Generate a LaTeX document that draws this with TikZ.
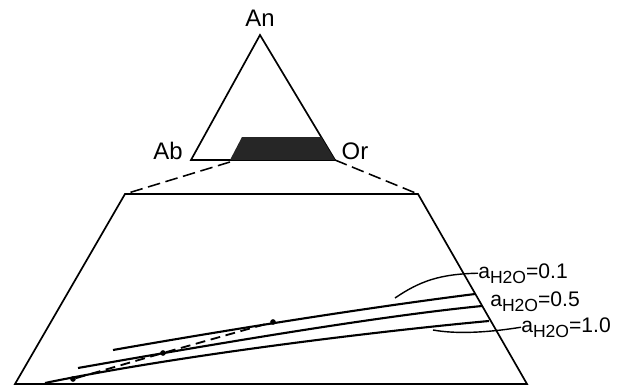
\documentclass[tikz,border=0pt]{standalone}
\usepackage{fontspec}
\setmainfont{Liberation Sans}
\usetikzlibrary{positioning}

\newcommand{\awater}[1]{a\raisebox{-0.45ex}{\fontsize{12.5}{14}\selectfont H2O}=#1}

\begin{document}
\begin{tikzpicture}[
  x=0.025cm, y=-0.025cm,
  font=\fontsize{15}{17}\selectfont,
  frame/.style={line width=1.2pt, line join=miter},
  zoomline/.style={line width=1.1pt, dash pattern=on 9pt off 4pt},
  curve/.style={line width=1.5pt},
  trend/.style={line width=1.3pt, dash pattern=on 7pt off 4pt},
  leader/.style={line width=1pt},
  corner/.style={inner sep=0pt, anchor=base, font=\fontsize{17}{19}\selectfont},
  lbl/.style={inner sep=0pt, anchor=base west},
  pt/.style={circle, fill=black, minimum size=4pt, inner sep=0pt},
]
\useasboundingbox (0,0) rectangle (621,388);

% ternary triangle
\coordinate (an) at (260,35);
\coordinate (ab) at (191,160);
\coordinate (or) at (335,160);
\draw[frame] (an) -- (ab) -- (or) -- cycle;
\fill[black!85] (230,160) -- (242,137) -- (321,137) -- (or) -- cycle;

\node[corner] (lan) at (260,27)  {An};
\node[corner] (lab) at (168,159) {Ab};
\node[corner] (lor) at (355,159) {Or};

% enlarged field
\coordinate (tl) at (125,194);
\coordinate (tr) at (418,194);
\coordinate (br) at (527,384);
\coordinate (bl) at (15,384);
\draw[frame] (tl) -- (tr) -- (br) -- (bl) -- cycle;
\draw[zoomline] (230,162) -- (tl);
\draw[zoomline] (or) -- (tr);

% curves
\draw[curve] (113,350) .. controls (250,326) and (380,306) .. (475,294);
\draw[curve] (78,368) .. controls (220,343) and (380,316) .. (482,306);
\draw[curve] (45,383) .. controls (180,355) and (380,331) .. (489,321);

\node[pt] (p1) at (73,379) {};
\node[pt] (p2) at (163,353) {};
\node[pt] (p3) at (273,322) {};
\draw[trend] (p1) -- (p2) -- (p3);

% labels
\node[lbl] (w1) at (478,278) {\awater{0.1}};
\node[lbl] (w5) at (490,306) {\awater{0.5}};
\node[lbl] (w10) at (521,332) {\awater{1.0}};
\draw[leader] (395,298) .. controls (420,281) and (440,274) .. (w1.west);
\draw[leader] (433,330) .. controls (455,334) and (485,333) .. (w10.west);

\end{tikzpicture}
\end{document}
